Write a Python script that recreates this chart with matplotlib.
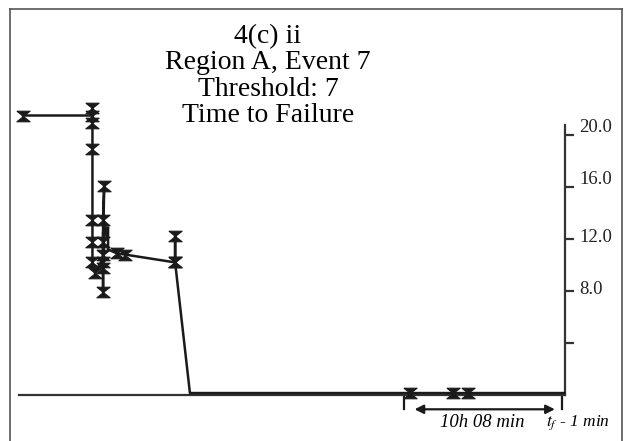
import matplotlib.pyplot as plt
from matplotlib.lines import Line2D
from matplotlib.transforms import offset_copy

plt.rcParams['font.family'] = ['Liberation Serif', 'DejaVu Serif']
plt.rcParams['mathtext.fontset'] = 'stix'

# time in hours from the first reading, and the measured value
t_hr = [0.0, 4.45, 4.45, 4.45, 4.45, 4.45, 4.45, 4.45, 4.6,
        5.13, 5.2, 5.13, 5.13, 5.13, 5.13, 5.13, 5.13,
        5.13, 5.25, 5.35, 5.45, 5.45, 6.0, 6.55,
        9.75, 9.75, 9.75, 10.7, 24.8, 27.6, 28.5, 34.7]
value = [21.5, 21.5, 22.1, 20.9, 18.9, 13.5, 11.8, 10.2, 9.4,
         10.5, 16.1, 13.5, 11.8, 10.8, 10.2, 9.8, 7.9,
         12.5, 13.3, 12.2, 12.9, 11.2, 10.9, 10.8,
         10.2, 12.2, 10.2, 0.15, 0.15, 0.15, 0.15, 0.15]
# which readings get a marker (the rest are just line bends)
marked = [1, 1, 1, 1, 1, 1, 1, 1, 1,
          0, 1, 1, 1, 1, 1, 1, 1,
          0, 0, 0, 0, 0, 1, 1,
          1, 1, 1, 0, 1, 1, 1, 0]

yticks = [4, 8, 12, 16, 20]
ytick_labels = ['', '8.0', '12.0', '16.0', '20.0']
label_shift = [0, 2, 1, 8, 8]  # px upward, labels sit a bit above ticks

span_start = 24.4   # hours
span_end = 34.55
span_text = '10h 08 min'
end_text = r'$t_f$ - 1 min'

fig = plt.figure(figsize=(6.24, 4.41), dpi=100)
ax = fig.add_axes([19 / 624, 46 / 441, 546 / 624, 295 / 441])
ax.set_xlim(-0.26, 34.75)
ax.set_ylim(0, 295 / 13)

ink = '#1a1a1a'
hourglass = [(-1, 0.8), (1, 0.8), (-1, -0.8), (1, -0.8), (-1, 0.8)]
idx = [i for i, m in enumerate(marked) if m]
ax.plot(t_hr, value, color=ink, lw=1.8, marker=hourglass, markersize=9.5,
        markevery=idx, markerfacecolor=ink, markeredgecolor=ink,
        markeredgewidth=0.8, clip_on=False, zorder=3)

for s in ['top', 'left']:
    ax.spines[s].set_visible(False)
ax.spines['bottom'].set_linewidth(1.6)
ax.spines['bottom'].set_color('#333333')
ax.spines['right'].set_linewidth(1.6)
ax.spines['right'].set_color('#333333')
ax.spines['right'].set_bounds(0, 270 / 13)
ax.set_xticks([])
ax.yaxis.tick_right()
ax.set_yticks(yticks)
ax.set_yticklabels([])
ax.tick_params(axis='y', direction='out', length=6.5, width=1.6, colors='#333333')

for v, lab, dy in zip(yticks, ytick_labels, label_shift):
    tr = offset_copy(ax.get_yaxis_transform(), fig=fig, x=14, y=dy, units='dots')
    ax.text(1, v, lab, transform=tr, ha='left', va='center', fontsize=13.5,
            color='#222222')

# span markers below the axis
for x in [span_start, span_end]:
    ax.plot([x, x], [0, -1.1], color=ink, lw=1.6, clip_on=False)
ax.annotate('', xy=(span_start + 0.7, -1.1), xytext=(span_end - 0.45, -1.1),
            arrowprops=dict(arrowstyle='<|-|>', color=ink, lw=1.6,
                            mutation_scale=13, shrinkA=0, shrinkB=0),
            annotation_clip=False)
ax.text((span_start + span_end) / 2, -2.15, span_text, ha='center',
        va='center', fontsize=13.5, style='italic', clip_on=False)
ax.text(span_end + 1.0, -2.15, end_text, ha='center', va='center',
        fontsize=12.5, style='italic', clip_on=False)

fig.text(268 / 624, 1 - 76 / 441,
         '4(c) ii\nRegion A, Event 7\nThreshold: 7\nTime to Failure',
         ha='center', va='center', fontsize=20, linespacing=1.07)

# frame around the figure
fx0, fx1, fy1 = 9.5 / 624, 622 / 624, 1 - 9 / 441
for xs, ys in [([fx0, fx0], [0, fy1]), ([fx0, fx1], [fy1, fy1]),
               ([fx1, fx1], [fy1, 0])]:
    fig.add_artist(Line2D(xs, ys, color='#555555', lw=1.2))

fig.savefig('out.png', dpi=100)
